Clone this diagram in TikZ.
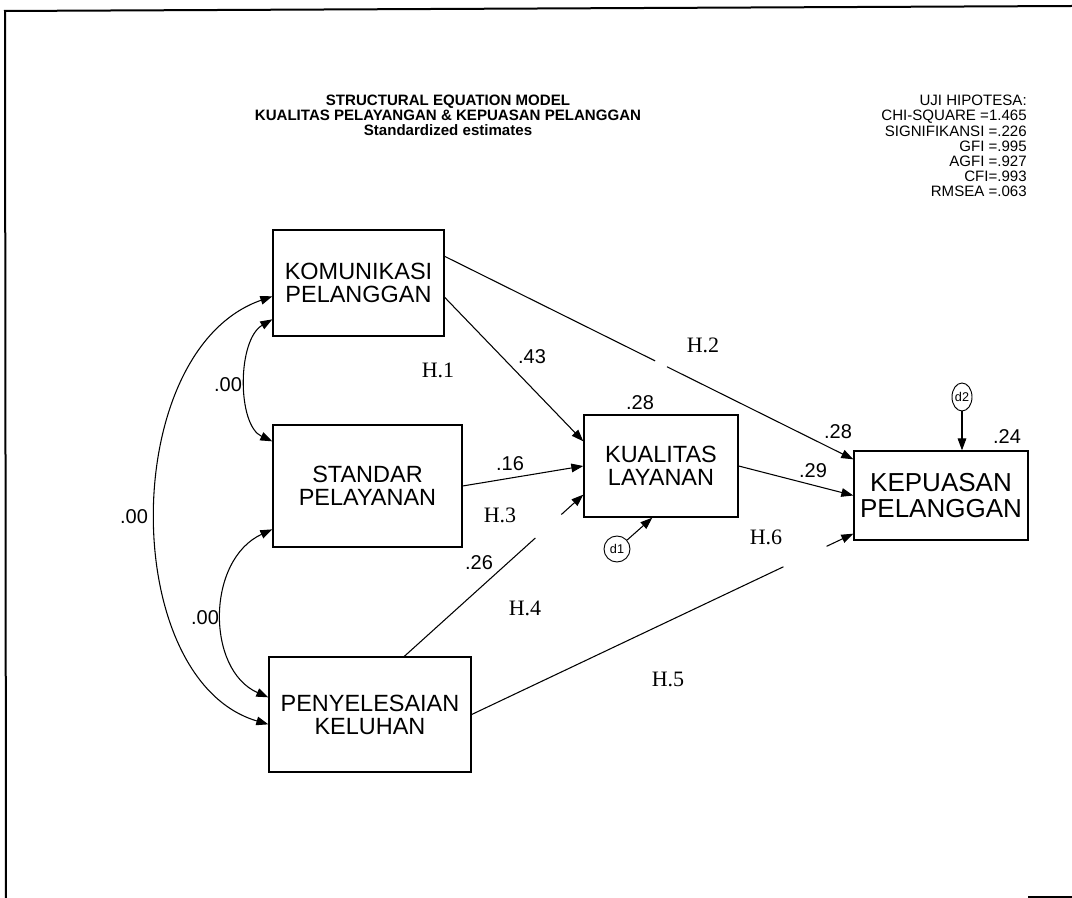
\documentclass[tikz,border=0pt]{standalone}
\usepackage{fontspec}
\setmainfont{Liberation Sans}
\newfontfamily\serifH{Liberation Serif}
\usetikzlibrary{arrows.meta,calc,shapes.geometric}
\newlength\pxu
\setlength\pxu{0.75pt}
\begin{document}
\begin{tikzpicture}[x=0.75pt,y=-0.75pt,
  box/.style={draw, line width=1pt, inner sep=0pt, align=center, font=\fontsize{17.6}{17.25}\selectfont},
  coef/.style={font=\fontsize{15}{15}\selectfont, inner sep=0pt},
  hyp/.style={font=\serifH\fontsize{16.5}{17}\selectfont, inner sep=0pt},
  tip/.style={-{Triangle[length=9pt,width=6.5pt]}},
  conn/.style={line width=0.8pt, tip},
  cov/.style={line width=0.8pt, {Triangle[length=9pt,width=6.5pt]}-{Triangle[length=9pt,width=6.5pt]}},
  errc/.style={draw, line width=0.7pt, inner sep=0pt, font=\fontsize{9.5}{9.5}\selectfont},
  frame/.style={line width=1.5pt}
]
\useasboundingbox (0,0) rectangle (1072,898);
% frame
\coordinate (ftl) at (5,11);
\coordinate (ftr) at (1072,6);
\coordinate (fbl) at (6,898);
\coordinate (fb1) at (1028,897);
\coordinate (fb2) at (1072,897);
\draw[frame] (ftr) -- (ftl) -- (fbl);
\draw[line width=1.2pt] (fb1) -- (fb2);

% titles
\node[font=\bfseries\fontsize{11.3}{11.25}\selectfont, align=center, inner sep=0pt] (title) at (448,115)
  {STRUCTURAL EQUATION MODEL\\KUALITAS PELAYANGAN \& KEPUASAN PELANGGAN\\Standardized estimates};
\node[font=\fontsize{11.3}{11.4}\selectfont, align=right, inner sep=0pt, anchor=north east] (stats) at (1027,95)
  {UJI HIPOTESA:\\CHI-SQUARE =1.465\\SIGNIFIKANSI =.226\\GFI =.995\\AGFI =.927\\CFI=.993\\RMSEA =.063};

% boxes
\node[box, minimum width=171\pxu, minimum height=106\pxu] (kom) at (358.5,283) {KOMUNIKASI\\PELANGGAN};
\node[box, minimum width=189\pxu, minimum height=122\pxu] (sta) at (367.5,486) {STANDAR\\PELAYANAN};
\node[box, minimum width=154\pxu, minimum height=102\pxu] (kua) at (661,466) {KUALITAS\\LAYANAN};
\node[box, minimum width=174\pxu, minimum height=89\pxu, font=\fontsize{19.5}{20}\selectfont] (kep) at (941,495.5) {KEPUASAN\\PELANGGAN};
\node[box, minimum width=202\pxu, minimum height=115\pxu] (pen) at (370,714.5) {PENYELESAIAN\\KELUHAN};

% error terms
\node[errc, circle, minimum size=26\pxu] (d1) at (617,549) {d1};
\node[errc, ellipse, minimum width=20\pxu, minimum height=28\pxu] (d2) at (962,397) {d2};
\draw[conn] (d1) -- ($(kua.south west)+(69,0)$);
\draw[conn] (d2) -- (d2 |- kep.north);

% direct paths
\draw[conn] ($(kom.north east)+(0,68)$) -- ($(kua.north west)+(0,27)$);
\coordinate (k2s) at ($(kom.north east)+(0,27)$);
\coordinate (k2e) at ($(kep.north west)+(0,9)$);
\draw[line width=0.8pt] (k2s) -- ($(k2s)!0.515!(k2e)$);
\draw[conn] ($(k2s)!0.544!(k2e)$) -- (k2e);
\draw[conn] (kua.east) -- (kep.west);
\draw[conn] (sta.east) -- (kua.west);
\coordinate (p4s) at ($(pen.north west)+(136,0)$);
\coordinate (p4e) at ($(kua.south west)+(0,-23)$);
\draw[line width=0.8pt] (p4s) -- ($(p4s)!0.732!(p4e)$);
\draw[conn] ($(p4s)!0.877!(p4e)$) -- (p4e);
\coordinate (p5e) at ($(kep.south west)+(0,-7)$);
\draw[line width=0.8pt] (pen.east) -- ($(pen.east)!0.817!(p5e)$);
\draw[conn] ($(pen.east)!0.93!(p5e)$) -- (p5e);

% covariances
\draw[cov] ($(kom.north west)+(0,90)$) .. controls (237,340) and (237,425) .. ($(sta.north west)+(0,17)$);
\draw[cov] ($(sta.north west)+(0,105)$) .. controls (206,560) and (206,670) .. ($(pen.north west)+(0,41)$);
\draw[cov] ($(kom.north west)+(0,67)$) .. controls (118,350) and (118,680) .. ($(pen.north west)+(0,68)$);

% coefficient labels
\node[coef] (c1) at (228,385) {.00};
\node[coef] (c2) at (205,618) {.00};
\node[coef] (c3) at (134,517) {.00};
\node[coef] (c4) at (532,357) {.43};
\node[coef] (c5) at (640,403) {.28};
\node[coef] (c6) at (838,432) {.28};
\node[coef] (c7) at (813,471) {.29};
\node[coef] (c8) at (510,464) {.16};
\node[coef] (c9) at (479,563) {.26};
\node[coef] (c10) at (1007,437) {.24};

% hypothesis labels
\node[hyp] (h1) at (438,370) {H.1};
\node[hyp] (h2) at (703,345) {H.2};
\node[hyp] (h3) at (500,515) {H.3};
\node[hyp] (h4) at (525,608) {H.4};
\node[hyp] (h5) at (668,679) {H.5};
\node[hyp] (h6) at (766,537) {H.6};
\end{tikzpicture}
\end{document}
